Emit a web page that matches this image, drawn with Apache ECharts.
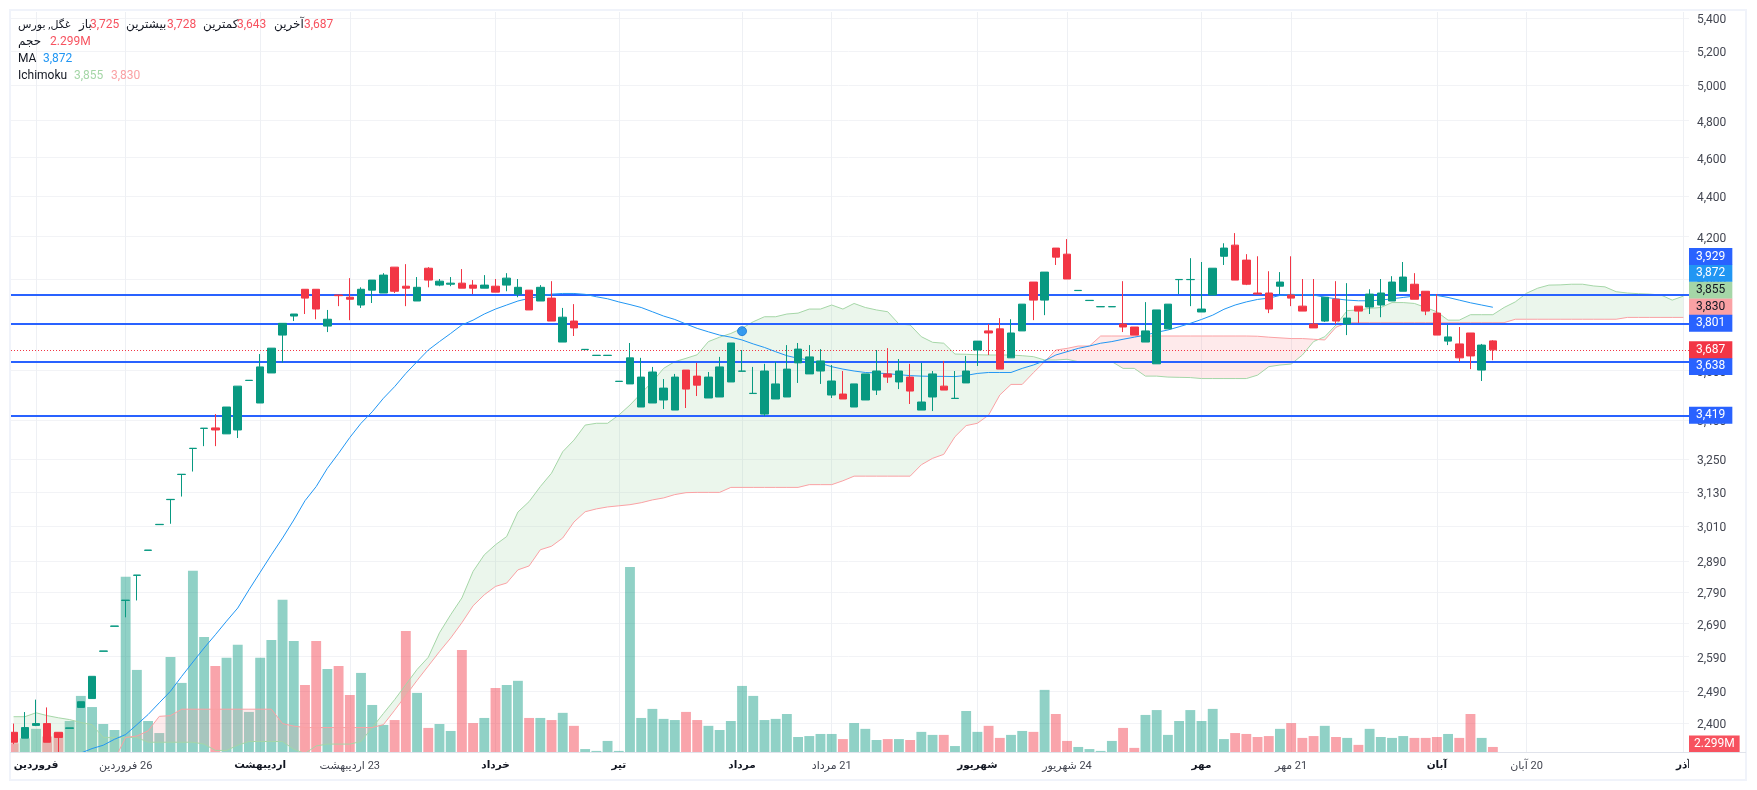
<!DOCTYPE html>
<html><head><meta charset="utf-8"><style>html,body{margin:0;padding:0;background:#fff}#c{width:1757px;height:790px;direction:rtl}</style>
<script src="https://cdn.jsdelivr.net/npm/echarts@6/dist/echarts.min.js"></script></head><body><div id="c"></div>
<script>
const CATEGORY_COUNT = 150;
const tickIndex = [2,10,22,30,43,54,65,73,86,94,106,114,127,135,149];
const tickText = ['فروردین','26 فروردین','اردیبهشت','23 اردیبهشت','خرداد','تیر','مرداد','21 مرداد','شهریور','24 شهریور','مهر','21 مهر','آبان','20 آبان','آذر'];
const boldTicks = [2,22,43,54,65,86,106,127,149];
const priceTicks = [2400,2490,2590,2690,2790,2890,3010,3130,3250,3400,3600,3800,4000,4200,4400,4600,4800,5000,5200,5400];
const ohlc = [
[2374,2347,2342,2398],[2358,2387,2358,2430],[2393,2398,2391,2465],[2398,2347,2347,2443],[2374,2360,2321,2374],
[2385,2386,2385,2386],[2443,2459,2443,2459],[2468,2532,2468,2532],[2606,2607,2606,2607],[2682,2683,2682,2683],
[2763,2764,2710,2764],[2844,2845,2763,2845],[2927,2928,2927,2928],[3015,3016,3015,3016],[3103,3104,3018,3104],
[3194,3195,3114,3195],[3291,3292,3205,3292],[3368,3369,3300,3369],[3370,3362,3300,3424],[3347,3452,3347,3452],
[3362,3536,3331,3536],[3559,3560,3559,3560],[3468,3615,3468,3669],[3590,3694,3590,3694],[3750,3801,3633,3801],
[3833,3842,3811,3842],[3953,3913,3842,3953],[3953,3864,3819,3953],[3789,3819,3763,3860],[3927,3924,3877,3927],
[3917,3908,3815,4004],[3882,3953,3869,3962],[3949,3995,3891,3995],[3936,4018,3936,4027],[4055,3944,3936,4055],
[3967,3958,3877,4069],[3900,3962,3900,4009],[4050,3995,3962,4055],[3972,3990,3967,4000],[3976,3981,3967,4009],
[3981,3958,3958,4046],[3972,3958,3931,3995],[3958,3972,3958,4018],[3967,3940,3940,4000],[3972,4004,3944,4027],
[3931,3962,3917,4000],[3949,3860,3860,3949],[3900,3962,3900,3972],[3913,3811,3811,3990],[3720,3828,3720,3869],
[3811,3781,3746,3886],[3688,3689,3688,3689],[3663,3664,3663,3664],[3663,3664,3663,3664],[3555,3556,3555,3556],
[3545,3653,3545,3716],[3452,3573,3452,3653],[3468,3594,3468,3615],[3480,3528,3444,3565],[3440,3573,3440,3586],
[3602,3524,3448,3602],[3577,3540,3496,3632],[3488,3573,3488,3594],[3492,3615,3492,3657],[3553,3716,3553,3716],
[3597,3598,3597,3686],[3506,3507,3506,3615],[3424,3598,3416,3628],[3484,3545,3484,3636],[3492,3606,3492,3707],
[3632,3690,3549,3716],[3586,3657,3586,3707],[3598,3640,3545,3690],[3500,3557,3488,3623],[3504,3484,3484,3598],
[3452,3545,3452,3545],[3480,3586,3480,3586],[3520,3598,3500,3686],[3586,3573,3549,3694],[3553,3598,3524,3648],
[3573,3516,3464,3628],[3440,3472,3440,3632],[3492,3586,3436,3598],[3536,3520,3520,3640],[3486,3487,3486,3598],
[3549,3598,3549,3661],[3686,3724,3619,3724],[3768,3759,3665,3798],[3777,3606,3606,3824],[3653,3759,3653,3819],
[3768,3886,3768,3886],[3986,3904,3815,3986],[3904,4032,3837,4032],[4145,4102,4065,4145],[4116,4000,4000,4188],
[3947,3948,3947,3948],[3902,3903,3902,3903],[3874,3875,3874,3875],[3874,3875,3874,3875],[3798,3785,3763,3990],
[3785,3750,3750,3785],[3720,3768,3720,3895],[3628,3860,3628,3860],[3777,3886,3777,3886],[3997,3998,3931,3998],
[3997,3998,3877,4097],[3851,3864,3851,4079],[3927,4050,3927,4050],[4106,4145,4065,4168],[4159,3995,3995,4217],
[4088,3976,3972,4116],[3936,3931,3931,4106],[3936,3864,3846,4036],[3967,3986,3931,4032],[3927,3913,3877,4106],
[3877,3855,3855,4000],[3798,3781,3781,4000],[3811,3917,3807,3917],[3908,3811,3798,3990],[3798,3824,3750,3981],
[3877,3855,3803,3877],[3873,3931,3842,3953],[3882,3936,3828,4000],[3900,3986,3900,4013],[3944,4009,3944,4079],
[3976,3908,3908,4027],[3944,3855,3837,3944],[3846,3750,3750,3931],[3724,3742,3707,3794],[3712,3653,3636,3785],
[3759,3661,3606,3759],[3602,3707,3557,3712],[3725,3687,3643,3728]];
const volumeM = [3.9,6.0,10.1,6.8,8.3,13.5,24.3,19.5,12.2,9.6,
75.6,35.5,13.5,8.3,41.1,29.9,78.2,49.7,37.2,40.7,
46.3,17.4,40.7,48.4,65.7,48.0,29.0,48.0,35.9,37.2,
24.7,34.2,20.4,11.8,13.9,52.3,25.6,10.5,12.2,9.2,
44.1,12.6,14.8,27.7,29.0,30.8,14.8,14.8,13.9,17.0,
11.4,1.4,0.6,4.9,0.6,79.8,14.8,18.7,14.4,13.9,
17.4,13.9,11.4,9.6,13.5,28.6,24.3,13.9,14.4,16.5,
6.6,7.0,7.9,7.9,5.7,12.6,10.1,5.3,5.7,5.7,
5.3,8.8,7.5,7.5,2.7,17.8,8.8,11.4,6.2,7.5,
9.2,8.8,26.9,16.5,4.9,2.3,1.4,0.6,4.9,10.5,
1.9,16.1,18.2,7.5,13.5,18.2,13.5,18.7,5.7,8.3,
7.9,6.6,7.0,10.1,12.6,6.2,7.0,11.4,6.6,6.2,
3.2,10.1,6.6,6.2,7.0,6.2,6.2,6.6,7.9,6.2,
16.5,6.2,2.299];
const maLine = [null,null,null,null,null,null,2318,2330,2339,2355,
2368,2395,2423,2456,2489,2532,2574,2616,2656,2698,
2739,2797,2854,2912,2969,3031,3099,3150,3217,3273,
3333,3388,3433,3487,3534,3588,3637,3686,3722,3757,
3794,3815,3842,3864,3882,3900,3912,3922,3931,3934,
3934,3930,3919,3910,3896,3884,3871,3852,3833,3818,
3798,3779,3764,3750,3741,3729,3712,3697,3679,3662,
3651,3644,3630,3616,3606,3598,3592,3590,3587,3583,
3579,3577,3576,3576,3575,3580,3588,3592,3592,3592,
3609,3623,3641,3665,3679,3693,3703,3715,3722,3732,
3741,3750,3762,3772,3786,3801,3818,3837,3863,3882,
3896,3907,3913,3925,3930,3928,3927,3917,3910,3904,
3901,3901,3904,3910,3916,3922,3925,3925,3916,3904,
3892,3882,3872];
const spanA = [2417,2417,2428,2420,2414,2409,2401,2395,2360,2360,
2360,2360,2347,2347,2347,2347,2347,2342,2325,2325,
2339,2349,2349,2349,2349,2328,2317,2337,2342,2342,
2342,2349,2387,2426,2465,2508,2552,2588,2662,2718,
2771,2857,2912,2946,2974,3059,3096,3150,3199,3279,
3323,3381,3388,3388,3420,3460,3507,3554,3609,3637,
3651,3666,3722,3741,3757,3779,3808,3830,3830,3842,
3846,3864,3864,3882,3864,3889,3871,3860,3852,3798,
3794,3743,3719,3715,3669,3668,3666,3665,3665,3665,
3662,3658,3644,3644,3647,3637,3637,3637,3637,3609,
3609,3577,3577,3573,3572,3571,3567,3567,3567,3567,
3567,3581,3616,3623,3627,3665,3722,3743,3794,3857,
3860,3867,3871,3893,3893,3889,3871,3852,3815,3815,
3839,3839,3839,3871,3896,3935,3958,3972,3973,3976,
3976,3968,3964,3942,3936,3933,3931,3927,3904,3922];
const spanB = [2300,2300,2300,2300,2300,2300,2300,2300,2300,2300,
2360,2364,2378,2418,2420,2438,2438,2438,2438,2438,
2438,2438,2438,2438,2398,2391,2387,2387,2387,2387,
2387,2387,2387,2395,2435,2477,2520,2562,2605,2646,
2693,2746,2781,2808,2819,2862,2875,2929,2941,2969,
3024,3060,3070,3077,3081,3085,3092,3102,3109,3121,
3128,3129,3129,3129,3147,3147,3147,3147,3147,3147,
3147,3157,3157,3157,3171,3188,3188,3188,3188,3188,
3188,3230,3254,3269,3336,3379,3388,3420,3500,3543,
3543,3591,3637,3686,3693,3703,3703,3746,3746,3746,
3746,3746,3746,3746,3746,3746,3746,3746,3746,3746,
3746,3745,3741,3738,3735,3735,3732,3729,3784,3804,
3804,3804,3804,3804,3804,3804,3804,3804,3804,3804,
3804,3804,3804,3804,3819,3819,3819,3819,3819,3819,
3819,3819,3819,3819,3827,3827,3827,3827,3827,3827];
const levelLines = [3929,3801,3638,3419];
const lastPrice = 3687, lastMA = 3872, lastA = 3855, lastB = 3830, lastVolM = 2.299;
const markerPoint = [65,3767];

const UP='#089981', DOWN='#f23645', BLUE='#2962ff', FONT='Roboto,"Noto Sans","DejaVu Sans",sans-serif';
const categories = Array.from({length:CATEGORY_COUNT},(_,i)=>{const k=tickIndex.indexOf(i);return k<0?'':tickText[k];});
const fmt = v=>Number(v).toLocaleString('en-US');

function cloud(params,api){
  const runs=[]; let cur=null, prev=null;
  spanA.forEach((a,i)=>{
    const b=spanB[i], pa=api.coord([i,a]), pb=api.coord([i,b]), up=a>=b;
    if(cur && cur.up!==up){
      const d0=prev.pa[1]-prev.pb[1], d1=pa[1]-pb[1], t=d0/(d0-d1);
      const P=[prev.pa[0]+(pa[0]-prev.pa[0])*t, prev.pa[1]+(pa[1]-prev.pa[1])*t];
      cur.t.push(P);cur.b.push(P);runs.push(cur);cur={up,t:[P],b:[P]};
    }
    if(!cur)cur={up,t:[],b:[]};
    cur.t.push(pa);cur.b.push(pb);prev={pa,pb};
  });
  runs.push(cur);
  return {type:'group',children:runs.map(r=>({type:'polygon',silent:true,
    shape:{points:r.t.concat(r.b.slice().reverse())},
    style:{fill:r.up?'rgba(165,214,167,0.22)':'rgba(250,161,164,0.22)'}}))};
}
const noLine={color:'rgba(0,0,0,0)',width:1,opacity:1};
function lvl(v,text,bg,color,dy,line,pad){
  return {yAxis:v,lineStyle:line||noLine,
    label:{show:true,position:'end',distance:0,formatter:text,backgroundColor:bg,color:color,opacity:1,
      fontFamily:FONT,fontSize:12,lineHeight:15,height:15,padding:[2,pad||7,0,pad||7],offset:[0,dy]}};
}
const blueLine={color:BLUE,width:2,type:'solid',opacity:1};
const hdrRed='#f7525f';
function txt(x,y,t,c,size){return {type:'text',z:50,silent:true,x:x,y:y,style:{text:t,fill:c,font:(size||12)+'px '+FONT,textAlign:'left',textVerticalAlign:'middle'}};}
const graphic=[
 {type:'rect',z:39,silent:true,shape:{x:0,y:0,width:9.5,height:790},style:{fill:'#fff'}},
 {type:'rect',z:39,silent:true,shape:{x:1689,y:755,width:56,height:23},style:{fill:'#fff'}},
 {type:'rect',z:40,silent:true,shape:{x:10,y:10,width:1736,height:770},style:{fill:'none',stroke:'#f0f3fa',lineWidth:2}},
 {type:'line',z:40,silent:true,shape:{x1:10,y1:752.5,x2:1746,y2:752.5},style:{stroke:'#e0e3eb',lineWidth:1}},
 txt(18,25,'غگل, بورس','#131722',11),
 txt(79,25,'باز','#131722'),txt(90,25,fmt(ohlc[132][0]),hdrRed),
 txt(126,25,'بیشترین','#131722'),txt(167,25,fmt(ohlc[132][3]),hdrRed),
 txt(203,25,'کمترین','#131722'),txt(237,25,fmt(ohlc[132][2]),hdrRed),
 txt(274,25,'آخرین','#131722'),txt(304,25,fmt(ohlc[132][1]),hdrRed),
 txt(18,42,'حجم','#131722'),txt(50,42,lastVolM+'M',hdrRed),
 txt(18,59,'MA','#131722'),txt(43,59,fmt(lastMA),'#2196f3'),
 txt(18,76,'Ichimoku','#131722'),txt(74,76,fmt(lastA),'#a5d6a7'),txt(111,76,fmt(lastB),'#faa1a4')
];
const chart=echarts.init(document.getElementById('c'),null,{renderer:'canvas'});
chart.setOption({
 animation:false,backgroundColor:'#fff',graphic,
 grid:{left:8,top:12,width:1681,height:740.3,containLabel:false},
 xAxis:{type:'category',data:categories,boundaryGap:true,
   axisLine:{show:false},axisTick:{show:false},
   axisLabel:{interval:(i,v)=>v!=='',margin:5,hideOverlap:false,color:'#434651',fontFamily:FONT,fontSize:11,lineHeight:17,
     formatter:(v,i)=>boldTicks.includes(i)?'{b|'+v+'}':v,
     rich:{b:{fontWeight:'bold',color:'#131722',fontFamily:FONT,fontSize:10.5}}},
   splitLine:{show:true,alignWithLabel:true,interval:(i,v)=>v!=='',lineStyle:{color:'#eef0f4',width:1}}},
 yAxis:[
  {type:'log',logBase:10,position:'right',min:2320,max:5439,
   axisLine:{show:false},axisTick:{show:false,customValues:priceTicks},
   axisLabel:{customValues:priceTicks,margin:8,verticalAlign:'top',lineHeight:4,color:'#434651',fontFamily:FONT,fontSize:12,formatter:v=>fmt(Math.round(v))},
   splitLine:{show:true,lineStyle:{color:'#f2f3f6',width:1}}},
  {type:'value',min:0,max:319,show:false,splitLine:{show:false}}
 ],
 series:[
  {type:'bar',yAxisIndex:1,z:1,barWidth:'88%',data:volumeM.map((v,i)=>({value:v,itemStyle:{color:ohlc[i][1]>=ohlc[i][0]?'rgba(8,153,129,0.45)':'rgba(242,54,69,0.45)'}})),
   markLine:{silent:true,symbol:'none',animation:false,data:[lvl(lastVolM,lastVolM+'M','#f7525f','#fff',-3,null,5)]}},
  {type:'custom',z:2,clip:true,renderItem:cloud,data:[0],silent:true},
  {type:'line',z:3,data:spanA,symbol:'none',lineStyle:{color:'#a5d6a7',width:1},silent:true},
  {type:'line',z:3,data:spanB,symbol:'none',lineStyle:{color:'#faa1a4',width:1},silent:true},
  {type:'line',z:4,data:[],silent:true,symbol:'none',
   markLine:{silent:true,symbol:'none',animation:false,precision:0,data:[
    lvl(lastB,fmt(lastB),'#faa1a4','#131722',-10),lvl(lastA,fmt(lastA),'#a5d6a7','#131722',-21),lvl(lastMA,fmt(lastMA),'#2196f3','#fff',-34),
    lvl(levelLines[0],fmt(levelLines[0]),BLUE,'#fff',-38,blueLine),lvl(levelLines[1],fmt(levelLines[1]),BLUE,'#fff',0,blueLine),
    lvl(levelLines[2],fmt(levelLines[2]),BLUE,'#fff',5,blueLine),lvl(levelLines[3],fmt(levelLines[3]),BLUE,'#fff',0,blueLine),
    lvl(lastPrice,fmt(lastPrice),'#f23645','#fff',0,{color:'#f23645',width:1,type:[1,2],opacity:1})]}},
  {type:'line',z:5,data:maLine,symbol:'none',lineStyle:{color:'#2196f3',width:1},silent:true},
  {type:'candlestick',z:6,data:ohlc,barWidth:8,silent:true,
   itemStyle:{color:UP,color0:DOWN,borderColor:UP,borderColor0:DOWN,borderWidth:1}},
  {type:'scatter',z:7,data:[markerPoint],symbolSize:9,silent:true,itemStyle:{color:'#0a84f0',borderColor:'#1976d2',borderWidth:1}}
 ]
});
</script></body></html>
